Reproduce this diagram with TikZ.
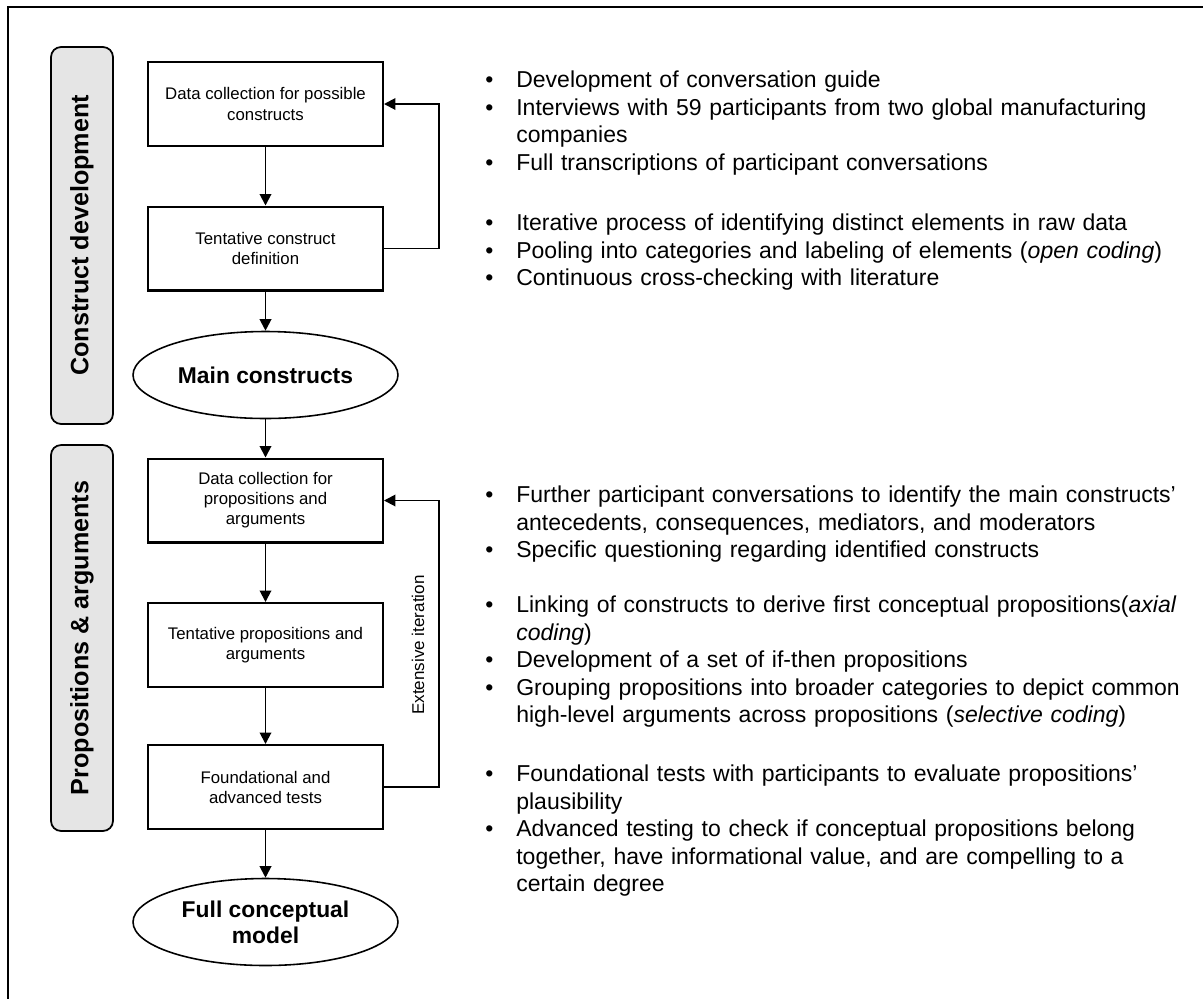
\documentclass[tikz,border=0pt]{standalone}
\usepackage{fontspec}
\setmainfont{Liberation Sans}
\usetikzlibrary{arrows.meta,shapes.geometric}

\hyphenpenalty=10000
\exhyphenpenalty=10000
\newlength\bulind
\setlength\bulind{0.62cm}
\newcommand{\bitem}[1]{\par\noindent\hangindent=\bulind\hangafter=1\strut\makebox[\bulind][l]{\textbullet}#1\par}

\tikzset{
  stepbox/.style={draw, line width=1.15pt, minimum width=4.7cm, minimum height=1.68cm,
    inner sep=0pt, align=center, font=\fontsize{9.56}{11.4}\selectfont},
  result/.style={ellipse, draw, line width=0.9pt, minimum width=5.3cm, minimum height=1.74cm,
    inner sep=0pt, align=center, font=\fontsize{13}{14.8}\selectfont\bfseries},
  phase/.style={draw, rounded corners=0.2cm, fill=black!10, line width=1pt, rotate=90,
    minimum height=1.24cm, inner sep=0pt, font=\fontsize{14.3}{17}\selectfont\bfseries},
  bullets/.style={anchor=north west, inner sep=0pt, text width=14.2cm, align=left,
    font=\fontsize{13.09}{15.7}\selectfont},
  flow/.style={line width=1.1pt, -{Triangle[length=0.23cm,width=0.23cm]}}
}

\begin{document}
\begin{tikzpicture}[x=0.02cm,y=-0.02cm]

        \useasboundingbox (0,0) rectangle (1203,998);
        \draw[line width=0.8pt] (8,7) rectangle (1230,1030);

        % phases on the left
        \node[phase, minimum width=7.54cm] (cd) at (82,235.5) {Construct development};
        \node[phase, minimum width=7.72cm] (pa) at (82,638) {Propositions \& arguments};

        \begin{scope}[every node/.style={stepbox}]
          \node (1) at (265.5,104)   {Data collection for possible\\constructs};
          \node (2) at (265.5,248.5) {Tentative construct\\definition};
          \node (4) at (265.5,500.5) {Data collection for\\propositions and\\arguments};
          \node (5) at (265.5,645)   {Tentative propositions and\\arguments};
          \node (6) at (265.5,787)   {Foundational and\\advanced tests};
        \end{scope}

        \begin{scope}[every node/.style={result}]
          \node (3) at (265.5,375) {Main constructs};
          \node (7) at (265.5,922) {Full conceptual\\model};
        \end{scope}

        \begin{scope}[every edge/.style={draw, flow}]
          \path (1) edge (2);
          \path (2) edge (3);
          \path (3) edge (4);
          \path (4) edge (5);
          \path (5) edge (6);
          \path (6) edge (7);
        \end{scope}

        % iteration loops
        \draw[flow] (2.east) -- ++(55,0) |- (1.east);
        \draw[flow] (6.east) -- ++(55,0) |- (4.east);
        \node[rotate=90, font=\fontsize{9.7}{11.6}\selectfont] (it) at (418,645) {Extensive iteration};

        % notes
        \begin{scope}[every node/.style={bullets}]
          \node (n1) at (485,59.7) {%
            \bitem{Development of conversation guide}
            \bitem{Interviews with 59 participants from two global manufacturing companies}
            \bitem{Full transcriptions of participant conversations}};
          \node (n2) at (485,202.7) {%
            \bitem{Iterative process of identifying distinct elements in raw data}
            \bitem{Pooling into categories and labeling of elements (\textit{open coding})}
            \bitem{Continuous cross-checking with literature}};
          \node (n3) at (485,474.7) {%
            \bitem{Further participant conversations to identify the main constructs’ antecedents, consequences, mediators, and moderators}
            \bitem{Specific questioning regarding identified constructs}};
          \node (n4) at (485,584.7) {%
            \bitem{Linking of constructs to derive first conceptual propositions(\textit{axial coding})}
            \bitem{Development of a set of if-then propositions}
            \bitem{Grouping propositions into broader categories to depict common high-level arguments across propositions (\textit{selective coding})}};
          \node (n5) at (485,753.7) {%
            \bitem{Foundational tests with participants to evaluate propositions’ plausibility}
            \bitem{Advanced testing to check if conceptual propositions belong together, have informational value, and are compelling to a\linebreak certain degree}};
        \end{scope}

      \end{tikzpicture}
\end{document}
